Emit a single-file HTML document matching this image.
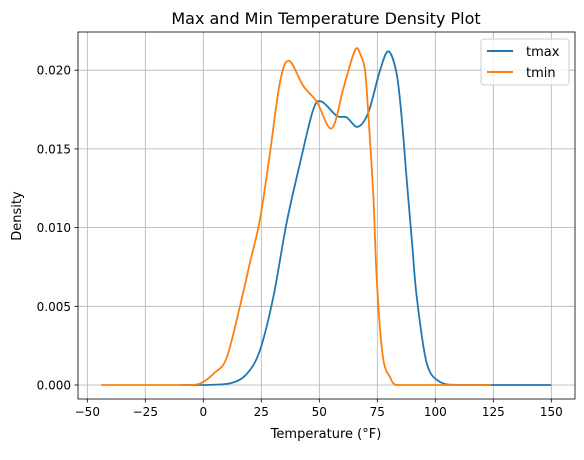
<!DOCTYPE html>
<html><head><meta charset="utf-8"><style>
body{margin:0;background:#fff;font-family:"Liberation Sans","DejaVu Sans",sans-serif}
svg text{font-family:"DejaVu Sans","Liberation Sans",sans-serif;fill:#000}
</style></head><body>
<svg id="chart" width="584" height="455" xmlns="http://www.w3.org/2000/svg">
<rect x="0" y="0" width="584" height="455" fill="#fff"/>
<g id="grid"></g>
<g id="series"></g>
<rect x="78" y="32" width="497" height="367" fill="none" stroke="#000" stroke-width="0.8"/>
<g id="ticks"></g>
<text x="326" y="24" font-size="16" text-anchor="middle">Max and Min Temperature Density Plot</text>
<text x="326" y="438" font-size="13" text-anchor="middle">Temperature (°F)</text>
<text x="0" y="0" font-size="13" text-anchor="middle" transform="translate(21,216) rotate(-90)">Density</text>
<g>
<rect x="481" y="39" width="88" height="46" rx="3" fill="#fff" fill-opacity="0.8" stroke="#ccc"/>
<line x1="487" y1="51" x2="513" y2="51" stroke="#1f77b4" stroke-width="2"/>
<text x="526" y="56" font-size="13">tmax</text>
<line x1="487" y1="72" x2="513" y2="72" stroke="#ff7f0e" stroke-width="2"/>
<text x="526" y="77" font-size="13">tmin</text>
</g>
</svg>
<script>
const xTicks=[-50,-25,0,25,50,75,100,125,150];
const yTicks=[0,0.005,0.010,0.015,0.020];
const yTickLabels=["0.000","0.005","0.010","0.015","0.020"];
const tmaxX=[-10,0,11.5,18.7,24.4,30.2,35.9,41.7,47.4,51,57.5,61.8,66.5,71.1,76.2,79.8,83.3,85.5,87.7,90,92,96.3,102,110,130,150];
const tmaxY=[0,0,0.0001,0.0007,0.0022,0.0056,0.0103,0.0141,0.0175,0.018,0.0171,0.0170,0.0164,0.0173,0.020,0.0212,0.0198,0.017,0.013,0.009,0.0056,0.0014,0.0002,0,0,0];
const tminX=[-44,-20,-5,0,5,10,15.8,20,24.4,28.7,33,36.9,43.1,48.9,55.3,60.3,64,66.1,68,69.7,71,73.3,74.5,76.2,78,80.5,82,84.8,100,124];
const tminY=[0,0,0,0.0002,0.0008,0.0017,0.005,0.0077,0.0105,0.0147,0.0192,0.0206,0.019,0.018,0.0163,0.0188,0.0207,0.0214,0.0209,0.020,0.0175,0.012,0.0075,0.0035,0.0013,0.0005,0.0001,0,0,0];
const NS="http://www.w3.org/2000/svg";
const X=v=>203.3+v*2.32, Y=v=>385-v/0.005*78.7;
function mk(t,a,p){const e=document.createElementNS(NS,t);for(const k in a)e.setAttribute(k,a[k]);p.appendChild(e);return e;}
const g=document.getElementById('grid'),tk=document.getElementById('ticks'),s=document.getElementById('series');
xTicks.forEach(v=>{
 const l=mk('line',{x1:X(v),x2:X(v),y1:32,y2:399,stroke:'#b0b0b0','stroke-width':0.8},g);
 
 
 mk('line',{x1:X(v),x2:X(v),y1:399,y2:402.5,stroke:'#000','stroke-width':0.8},tk);
 const t=mk('text',{x:X(v),y:416,'font-size':12,'text-anchor':'middle'},tk);t.textContent=String(v).replace('-','−');
 
 
});
yTicks.forEach((v,i)=>{
 const l=mk('line',{x1:78,x2:575,y1:Y(v),y2:Y(v),stroke:'#b0b0b0','stroke-width':0.8},g);
 
 
 mk('line',{x1:74.5,x2:78,y1:Y(v),y2:Y(v),stroke:'#000','stroke-width':0.8},tk);
 const t=mk('text',{x:71,y:Y(v)+4.5,'font-size':12,'text-anchor':'end'},tk);t.textContent=yTickLabels[i];
 
 
});
function path(xs,ys){const p=xs.map((x,i)=>[X(x),Y(ys[i])]);const B=Y(0);const c=y=>Math.min(y,B);let d='M'+p[0][0]+','+p[0][1];
 for(let i=0;i<p.length-1;i++){const p0=p[i-1]||p[i],p1=p[i],p2=p[i+1],p3=p[i+2]||p2;
 d+=` C${p1[0]+(p2[0]-p0[0])/6},${c(p1[1]+(p2[1]-p0[1])/6)} ${p2[0]-(p3[0]-p1[0])/6},${c(p2[1]-(p3[1]-p1[1])/6)} ${p2[0]},${p2[1]}`;}return d;}
const a=mk('path',{d:path(tmaxX,tmaxY),fill:'none',stroke:'#1f77b4','stroke-width':1.8},s);


const b=mk('path',{d:path(tminX,tminY),fill:'none',stroke:'#ff7f0e','stroke-width':1.8},s);


</script>
</body></html>
